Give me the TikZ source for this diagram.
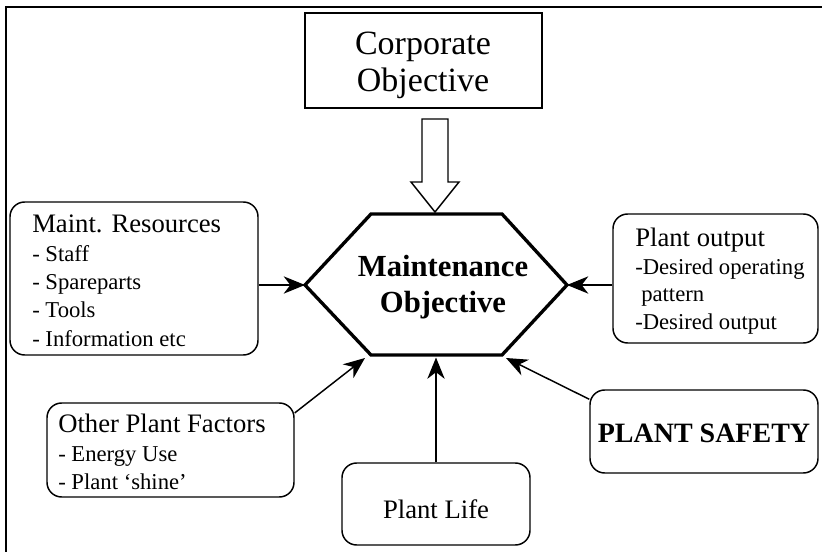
\documentclass[tikz,border=0pt]{standalone}
\usepackage{fontspec}
\setmainfont{Liberation Serif}
\usetikzlibrary{arrows.meta,fit}
\begin{document}
\begin{tikzpicture}[x=0.75pt,y=-0.75pt,
  rbox/.style={draw, line width=1.1pt, rounded corners=11pt, inner sep=0pt},
  sbox/.style={draw, line width=1.1pt, inner sep=0pt},
  conn/.style={line width=1.1pt, -{Stealth[length=16pt,width=13pt,inset=5pt]}},
  headtxt/.style={inner sep=0pt, anchor=base west, font=\fontsize{20}{24}\selectfont},
  itemtxt/.style={inner sep=0pt, anchor=base west, font=\fontsize{17}{20}\selectfont},
 ]
\useasboundingbox (0,0) rectangle (822,552);
% frame
\draw[line width=1.8pt] (6,552) -- (6,7) -- (822,7);

% corporate objective
\node[sbox, fit={(305,13) (542,108)}] (co) {};
\node[inner sep=0pt, anchor=base, font=\fontsize{25.5}{30}\selectfont] (co1) at (423,55) {Corporate};
\node[inner sep=0pt, anchor=base, font=\fontsize{25.5}{30}\selectfont] (co2) at (423,92) {Objective};

% hollow arrow
\draw[line width=1.1pt, line join=miter] (422,119) -- (448,119) -- (448,182) -- (459,182) -- (435,212) -- (411,182) -- (422,182) -- cycle;

% hexagon
\coordinate (hl) at (305,285);
\coordinate (htl) at (371,214);
\coordinate (htr) at (502,214);
\coordinate (hr) at (567,285);
\coordinate (hbr) at (502,355);
\coordinate (hbl) at (371,355);
\draw[line width=2.5pt, line join=miter] (hl) -- (htl) -- (htr) -- (hr) -- (hbr) -- (hbl) -- cycle;
\node[inner sep=0pt, anchor=base, font=\bfseries\fontsize{23}{27}\selectfont] (mo1) at (443,277) {Maintenance};
\node[inner sep=0pt, anchor=base, font=\bfseries\fontsize{23}{27}\selectfont] (mo2) at (443,313) {Objective};

% maint resources
\node[rbox, fit={(10,202) (258,355)}] (mr) {};
\node[headtxt] (mr1) at (32,233) {Maint. Resources};
\node[itemtxt] (mr2) at (32,262) {- Staff};
\node[itemtxt] (mr3) at (32,290) {- Spareparts};
\node[itemtxt] (mr4) at (32,318) {- Tools};
\node[itemtxt] (mr5) at (32,347) {- Information etc};
\draw[conn] (mr.east |- hl) -- (hl);

% plant output
\node[rbox, fit={(613,214) (818,343)}] (po) {};
\node[headtxt] (po1) at (635,247) {Plant output};
\node[itemtxt] (po2) at (635,275) {-Desired operating};
\node[itemtxt] (po3) at (641,302) {pattern};
\node[itemtxt] (po4) at (635,330) {-Desired output};
\draw[conn] (po.west |- hr) -- (hr);

% other plant factors
\node[rbox, fit={(47,403) (294,497)}] (op) {};
\node[headtxt] (op1) at (58,433) {Other Plant Factors};
\node[itemtxt] (op2) at (58,462) {- Energy Use};
\node[itemtxt] (op3) at (58,489) {- Plant ‘shine’};
\coordinate (t1) at (365,358);
\draw[conn] ([yshift=-8pt]op.north east) -- (t1);

% plant life
\node[rbox, fit={(342,463) (530,545)}] (pl) {};
\node[inner sep=0pt, anchor=base, font=\fontsize{20}{24}\selectfont] (pl1) at (436,518) {Plant Life};
\coordinate (t2) at (436,357.5);
\draw[conn] (pl.north) -- (t2);

% plant safety
\node[rbox, fit={(590,390) (818,473)}] (ps) {};
\node[inner sep=0pt, anchor=base, font=\bfseries\fontsize{21}{25}\selectfont] (ps1) at (704,443) {PLANT SAFETY};
\coordinate (t3) at (506,358);
\draw[conn] ([yshift=-7.5pt]ps.north west) -- (t3);
\end{tikzpicture}
\end{document}
